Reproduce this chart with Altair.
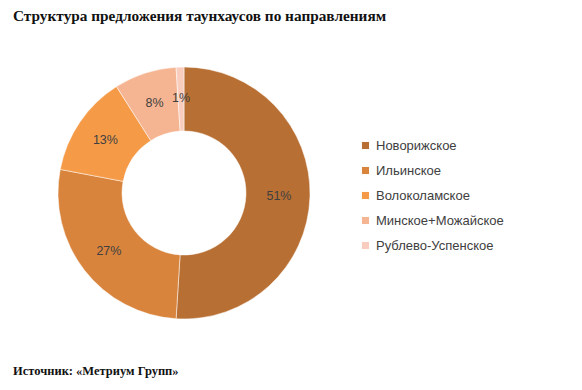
import altair as alt
import pandas as pd

categories = ["Новорижское", "Ильинское", "Волоколамское", "Минское+Можайское", "Рублево-Успенское"]
shares = [51, 27, 13, 8, 1]
colors = ["#B86F33", "#D9843D", "#F59B48", "#F6B592", "#F9CDBE"]
title_text = "Структура предложения таунхаусов по направлениям"
source_text = "Источник: «Метриум Групп»"

df = pd.DataFrame({
    "cat": categories,
    "share": shares,
    "order": list(range(len(categories))),
    "label": [f"{v}%" for v in shares],
})

cx, cy = 176, 185

base = alt.Chart(df).encode(
    theta=alt.Theta("share:Q", stack=True),
    order=alt.Order("order:Q"),
)

arcs = base.mark_arc(innerRadius=62, outerRadius=126, stroke="white", strokeWidth=0.5).encode(
    x=alt.value(cx), y=alt.value(cy),
    color=alt.Color(
        "cat:N",
        sort=categories,
        scale=alt.Scale(domain=categories, range=colors),
        legend=alt.Legend(
            title=None, orient="none", legendX=351, legendY=131,
            symbolType="square", symbolSize=50, symbolStrokeWidth=0,
            labelFont="Liberation Sans", labelFontSize=13, labelColor="#404040",
            rowPadding=11, symbolOffset=0, labelOffset=4,
        ),
    ),
)

labels = base.mark_text(radius=95, font="Liberation Sans", fontSize=12.5, color="#404040").encode(
    x=alt.value(cx), y=alt.value(cy),
    text="label:N",
)

title = alt.Chart(pd.DataFrame({"t": [title_text]})).mark_text(
    align="left", baseline="top", font="Liberation Serif", fontSize=15.3,
    fontWeight="bold", color="#111111",
).encode(x=alt.value(5), y=alt.value(1), text="t:N")

source = alt.Chart(pd.DataFrame({"t": [source_text]})).mark_text(
    align="left", baseline="alphabetic", font="Liberation Serif", fontSize=12.5,
    fontWeight="bold", color="#111111",
).encode(x=alt.value(5), y=alt.value(367), text="t:N")

chart = alt.layer(arcs, labels, title, source).properties(
    width=566, height=374, autosize=alt.AutoSizeParams(type="none"), padding=0,
).configure_view(stroke=None)

chart.save("out.html", embed_options={"renderer": "svg", "actions": False})
